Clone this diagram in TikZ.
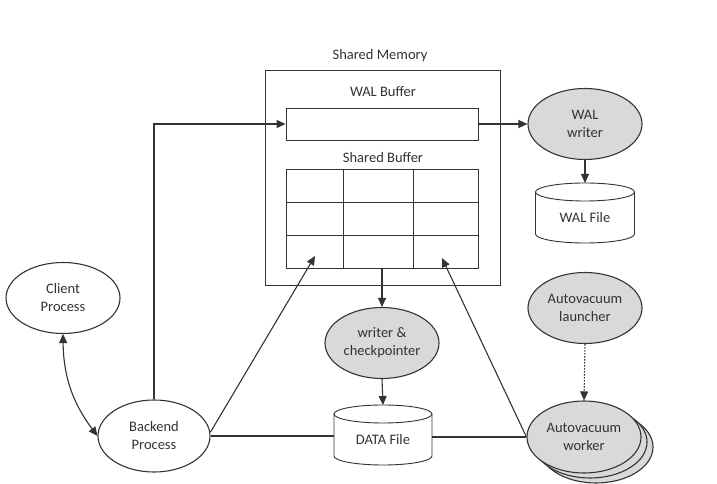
\documentclass[tikz,border=0pt]{standalone}
\usepackage{fontspec}
\setmainfont{Carlito}
\usetikzlibrary{shapes.geometric,arrows.meta}
\definecolor{ink}{HTML}{333333}
\definecolor{proc}{HTML}{D9D9D9}
\tikzset{
  every node/.style={font=\fontsize{14.5}{18}\selectfont, text=ink},
  ln/.style={draw=ink, line width=1.1pt},
  arr/.style={ln, -{Triangle[length=9pt,width=8pt]}},
  ell/.style={ellipse, ln, align=center, inner sep=0pt, minimum width=114pt, minimum height=71pt},
  grayell/.style={ell, fill=proc},
  whiteell/.style={ell, fill=white},
  cylbox/.style={inner sep=0pt, minimum width=98pt, minimum height=60pt},
  lbl/.style={inner sep=0pt}
}
\newcommand{\cylinderat}[4]{% cx, cy, halfwidth, halfheight ; cap ry=9
  \fill[white] (#1-#3,#2+#4-9) -- (#1-#3,#2-#4+9) arc[start angle=180,end angle=360,x radius=#3,y radius=9] -- (#1+#3,#2+#4-9) arc[start angle=0,end angle=180,x radius=#3,y radius=9] -- cycle;
  \draw[draw=ink, line width=0.9pt] (#1-#3,#2+#4-9) -- (#1-#3,#2-#4+9) arc[start angle=180,end angle=360,x radius=#3,y radius=9] -- (#1+#3,#2+#4-9);
  \draw[draw=ink, line width=0.9pt] (#1,#2+#4-9) ellipse[x radius=#3,y radius=9];
}
\begin{document}
\begin{tikzpicture}[x=1pt,y=1pt]
\useasboundingbox[fill=white] (0,0) rectangle (717,484);

% Shared memory
\node[lbl] (smlabel) at (380,428) {Shared Memory};
\node[draw=ink, line width=0.9pt, minimum width=235pt, minimum height=215pt, inner sep=0pt] (shmem) at (382.5,306.5) {};
\node[lbl] (wallabel) at (383,392) {WAL Buffer};
\node[draw=ink, line width=0.9pt, minimum width=192pt, minimum height=32pt, inner sep=0pt] (walbuf) at (382,360) {};
\node[lbl] (sblabel) at (383,326) {Shared Buffer};
\node[draw=ink, line width=0.9pt, minimum width=192pt, minimum height=99pt, inner sep=0pt] (grid) at (382,265.5) {};
\draw[draw=ink, line width=0.9pt] (343,216) -- (343,315) (413,216) -- (413,315)
   (286,249) -- (478,249) (286,282) -- (478,282);
\coordinate (cellL) at (315,228);
\coordinate (cellR) at (442,226);

% WAL writer and file
\node[grayell] (walwriter) at (585,360) {WAL\\writer};
\cylinderat{585}{271}{49.5}{30}
\node[cylbox, minimum width=99pt] (walfile) at (585,271) {};
\node[lbl] (walfiletext) at (585,266) {WAL File};

% writer & checkpointer and data file
\node[grayell] (writer) at (382,141) {writer \&\\checkpointer};
\cylinderat{383}{49}{49}{30}
\node[cylbox] (datafile) at (383,49) {};
\node[lbl] (datafiletext) at (383,44) {DATA File};

% client / backend
\node[whiteell] (client) at (63,186) {Client\\Process};
\node[whiteell, minimum width=112pt, minimum height=72pt] (backend) at (154,48) {Backend\\Process};

% autovacuum
\node[grayell] (launcher) at (585,176) {Autovacuum\\launcher};
\node[grayell, minimum height=72pt] (worker3) at (596,37) {};
\node[grayell, minimum height=72pt] (worker2) at (590,42) {};
\node[grayell, minimum height=72pt] (worker) at (584,47) {Autovacuum\\worker};

% connectors
\draw[arr] (backend.north) |- (walbuf.west);
\draw[arr] (walbuf.east) -- (walwriter.west);
\draw[arr] (walwriter.south) -- (585,301);
\draw[arr] (grid.south) -- (writer.north);
\draw[arr] (writer.south) -- (383,79);
\draw[arr] ([yshift=4pt]backend.east) -- (cellL);
\draw[arr] (worker.west) -- (cellR);
\draw[ln] (backend.east) -- (backend.east -| datafile.west);
\draw[ln] (datafile.east |- worker.west) -- (worker.west);
\draw[ln, {Triangle[length=9pt,width=8pt]}-{Triangle[length=9pt,width=8pt]}] (client.south) to[bend right=18] (backend.west);
\draw[arr, dash pattern=on 1.6pt off 1.4pt] (launcher.south) -- (worker.north);
\end{tikzpicture}
\end{document}
